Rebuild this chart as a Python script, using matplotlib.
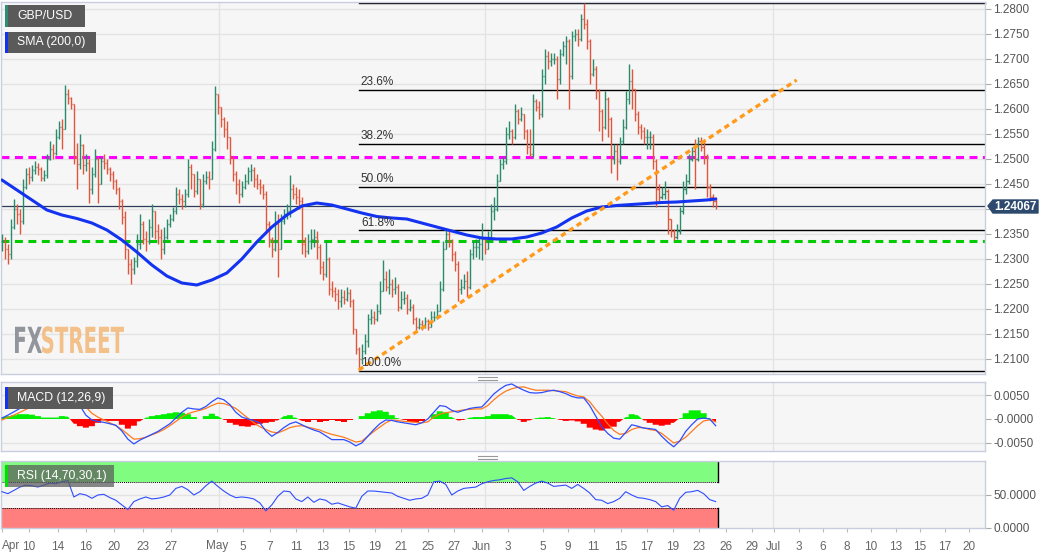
import numpy as np
import matplotlib
matplotlib.use("Agg")
import matplotlib.pyplot as plt
from matplotlib.collections import LineCollection
from matplotlib.patches import Rectangle, Polygon, PathPatch
from matplotlib.textpath import TextPath
from matplotlib.font_manager import FontProperties
from matplotlib.transforms import Affine2D
from matplotlib.lines import Line2D

# ---------------- data ----------------
symbol = "GBP/USD"
sma_label = "SMA (200,0)"
macd_label = "MACD (12,26,9)"
rsi_label = "RSI (14,70,30,1)"

close = [
    1.2335, 1.2320, 1.2310, 1.2365, 1.2400, 1.2390, 1.2375, 1.2445, 1.2470, 1.2465,
    1.2478, 1.2485, 1.2480, 1.2462, 1.2468, 1.2500, 1.2520, 1.2512, 1.2545, 1.2565,
    1.2560, 1.2630, 1.2622, 1.2610, 1.2505, 1.2490, 1.2528, 1.2488, 1.2492, 1.2440,
    1.2470, 1.2500, 1.2450, 1.2495, 1.2492, 1.2480, 1.2470, 1.2455, 1.2440, 1.2415,
    1.2385, 1.2320, 1.2290, 1.2280, 1.2295, 1.2330, 1.2370, 1.2340, 1.2335, 1.2365,
    1.2395, 1.2355, 1.2345, 1.2320, 1.2345, 1.2370, 1.2380, 1.2395, 1.2430, 1.2420,
    1.2415, 1.2430, 1.2485, 1.2470, 1.2435, 1.2460, 1.2410, 1.2455, 1.2465, 1.2460,
    1.2520, 1.2630, 1.2605, 1.2580, 1.2560, 1.2545, 1.2505, 1.2470, 1.2450, 1.2430,
    1.2445, 1.2455, 1.2475, 1.2478, 1.2460, 1.2450, 1.2445, 1.2430, 1.2370, 1.2340,
    1.2320, 1.2370, 1.2320, 1.2375, 1.2390, 1.2395, 1.2440, 1.2430, 1.2425, 1.2415,
    1.2330, 1.2315, 1.2335, 1.2340, 1.2345, 1.2325, 1.2285, 1.2270, 1.2300, 1.2240,
    1.2235, 1.2230, 1.2215, 1.2225, 1.2220, 1.2232, 1.2215, 1.2160, 1.2120, 1.2100,
    1.2115, 1.2135, 1.2180, 1.2185, 1.2180, 1.2195, 1.2235, 1.2260, 1.2245, 1.2250,
    1.2240, 1.2245, 1.2205, 1.2220, 1.2222, 1.2200, 1.2205, 1.2180, 1.2165, 1.2170,
    1.2165, 1.2175, 1.2165, 1.2185, 1.2185, 1.2195, 1.2240, 1.2320, 1.2350, 1.2335,
    1.2310, 1.2290, 1.2240, 1.2245, 1.2255, 1.2245, 1.2310, 1.2325, 1.2325, 1.2330,
    1.2340, 1.2320, 1.2345, 1.2395, 1.2400, 1.2455, 1.2490, 1.2495, 1.2550, 1.2555,
    1.2545, 1.2595, 1.2580, 1.2590, 1.2555, 1.2525, 1.2510, 1.2615, 1.2605, 1.2590,
    1.2665, 1.2705, 1.2695, 1.2700, 1.2700, 1.2660, 1.2710, 1.2725, 1.2735, 1.2665,
    1.2745, 1.2750, 1.2740, 1.2780, 1.2770, 1.2735, 1.2670, 1.2680, 1.2635, 1.2595,
    1.2565, 1.2620, 1.2580, 1.2500, 1.2515, 1.2495, 1.2535, 1.2565, 1.2620, 1.2655,
    1.2640, 1.2590, 1.2565, 1.2555, 1.2545, 1.2545, 1.2545, 1.2495, 1.2440, 1.2425,
    1.2430, 1.2435, 1.2380, 1.2355, 1.2345, 1.2355, 1.2395, 1.2440, 1.2455, 1.2500,
    1.2515, 1.2500, 1.2535, 1.2525, 1.2505, 1.2445, 1.2425, 1.2415, 1.24067,
]
high = [
    1.2350, 1.2345, 1.2330, 1.2380, 1.2420, 1.2410, 1.2400, 1.2460, 1.2482, 1.2485,
    1.2488, 1.2495, 1.2492, 1.2485, 1.2478, 1.2510, 1.2535, 1.2530, 1.2560, 1.2575,
    1.2580, 1.2648, 1.2640, 1.2625, 1.2610, 1.2532, 1.2550, 1.2530, 1.2510, 1.2500,
    1.2485, 1.2520, 1.2505, 1.2505, 1.2510, 1.2500, 1.2485, 1.2475, 1.2460, 1.2445,
    1.2420, 1.2395, 1.2320, 1.2300, 1.2305, 1.2350, 1.2390, 1.2375, 1.2355, 1.2380,
    1.2410, 1.2395, 1.2370, 1.2360, 1.2365, 1.2380, 1.2390, 1.2405, 1.2445, 1.2440,
    1.2430, 1.2440, 1.2500, 1.2490, 1.2470, 1.2475, 1.2450, 1.2470, 1.2475, 1.2475,
    1.2535, 1.2645, 1.2625, 1.2605, 1.2585, 1.2575, 1.2545, 1.2505, 1.2475, 1.2460,
    1.2455, 1.2470, 1.2485, 1.2490, 1.2485, 1.2470, 1.2460, 1.2450, 1.2435, 1.2375,
    1.2345, 1.2395, 1.2390, 1.2390, 1.2400, 1.2410, 1.2468, 1.2450, 1.2445, 1.2440,
    1.2425, 1.2345, 1.2350, 1.2360, 1.2360, 1.2355, 1.2330, 1.2295, 1.2335, 1.2305,
    1.2255, 1.2245, 1.2240, 1.2240, 1.2238, 1.2245, 1.2240, 1.2220, 1.2160, 1.2125,
    1.2130, 1.2150, 1.2190, 1.2200, 1.2195, 1.2210, 1.2255, 1.2298, 1.2275, 1.2280,
    1.2260, 1.2265, 1.2250, 1.2235, 1.2235, 1.2230, 1.2220, 1.2210, 1.2185, 1.2182,
    1.2178, 1.2185, 1.2180, 1.2195, 1.2195, 1.2210, 1.2255, 1.2335, 1.2362, 1.2355,
    1.2340, 1.2315, 1.2295, 1.2260, 1.2270, 1.2275, 1.2320, 1.2335, 1.2340, 1.2345,
    1.2372, 1.2345, 1.2355, 1.2410, 1.2424, 1.2470, 1.2500, 1.2505, 1.2565, 1.2575,
    1.2560, 1.2610, 1.2600, 1.2605, 1.2590, 1.2560, 1.2560, 1.2630, 1.2620, 1.2615,
    1.2680, 1.2720, 1.2715, 1.2712, 1.2712, 1.2705, 1.2720, 1.2735, 1.2745, 1.2740,
    1.2755, 1.2760, 1.2760, 1.2790, 1.2812, 1.2780, 1.2740, 1.2700, 1.2685, 1.2640,
    1.2600, 1.2635, 1.2625, 1.2585, 1.2530, 1.2530, 1.2545, 1.2580, 1.2635, 1.2690,
    1.2680, 1.2640, 1.2595, 1.2570, 1.2565, 1.2560, 1.2555, 1.2550, 1.2500, 1.2450,
    1.2445, 1.2455, 1.2440, 1.2380, 1.2360, 1.2370, 1.2405, 1.2455, 1.2470, 1.2510,
    1.2525, 1.2540, 1.2545, 1.2545, 1.2540, 1.2510, 1.2450, 1.2430, 1.2425,
]
low = [
    1.2315, 1.2300, 1.2290, 1.2300, 1.2360, 1.2370, 1.2350, 1.2370, 1.2440, 1.2450,
    1.2455, 1.2470, 1.2468, 1.2455, 1.2455, 1.2462, 1.2498, 1.2500, 1.2508, 1.2540,
    1.2520, 1.2560, 1.2610, 1.2600, 1.2490, 1.2440, 1.2480, 1.2470, 1.2475, 1.2412,
    1.2430, 1.2465, 1.2412, 1.2450, 1.2480, 1.2470, 1.2455, 1.2440, 1.2430, 1.2400,
    1.2370, 1.2300, 1.2270, 1.2250, 1.2270, 1.2285, 1.2320, 1.2330, 1.2315, 1.2330,
    1.2345, 1.2340, 1.2330, 1.2300, 1.2310, 1.2340, 1.2365, 1.2375, 1.2390, 1.2410,
    1.2400, 1.2405, 1.2425, 1.2440, 1.2425, 1.2430, 1.2400, 1.2405, 1.2450, 1.2440,
    1.2460, 1.2515, 1.2590, 1.2565, 1.2545, 1.2520, 1.2490, 1.2455, 1.2430, 1.2412,
    1.2425, 1.2440, 1.2450, 1.2455, 1.2445, 1.2440, 1.2430, 1.2420, 1.2355, 1.2325,
    1.2305, 1.2315, 1.2265, 1.2320, 1.2370, 1.2380, 1.2385, 1.2420, 1.2410, 1.2400,
    1.2310, 1.2305, 1.2310, 1.2320, 1.2325, 1.2300, 1.2270, 1.2258, 1.2265, 1.2228,
    1.2225, 1.2215, 1.2200, 1.2205, 1.2210, 1.2215, 1.2205, 1.2150, 1.2110, 1.2076,
    1.2090, 1.2110, 1.2125, 1.2170, 1.2170, 1.2175, 1.2190, 1.2240, 1.2235, 1.2230,
    1.2225, 1.2230, 1.2195, 1.2200, 1.2210, 1.2190, 1.2195, 1.2170, 1.2158, 1.2160,
    1.2158, 1.2162, 1.2158, 1.2165, 1.2175, 1.2180, 1.2195, 1.2235, 1.2320, 1.2325,
    1.2295, 1.2275, 1.2215, 1.2230, 1.2240, 1.2225, 1.2240, 1.2300, 1.2305, 1.2300,
    1.2298, 1.2310, 1.2320, 1.2340, 1.2378, 1.2395, 1.2460, 1.2480, 1.2490, 1.2540,
    1.2530, 1.2540, 1.2570, 1.2575, 1.2540, 1.2510, 1.2505, 1.2505, 1.2595, 1.2580,
    1.2585, 1.2650, 1.2680, 1.2685, 1.2690, 1.2620, 1.2650, 1.2705, 1.2690, 1.2600,
    1.2660, 1.2735, 1.2725, 1.2735, 1.2760, 1.2720, 1.2650, 1.2665, 1.2620, 1.2555,
    1.2535, 1.2560, 1.2545, 1.2472, 1.2490, 1.2458, 1.2490, 1.2530, 1.2560, 1.2610,
    1.2600, 1.2575, 1.2550, 1.2540, 1.2530, 1.2520, 1.2520, 1.2480, 1.2405, 1.2415,
    1.2420, 1.2420, 1.2350, 1.2345, 1.2338, 1.2340, 1.2350, 1.2390, 1.2430, 1.2450,
    1.2495, 1.2440, 1.2495, 1.2515, 1.2490, 1.2425, 1.2415, 1.2405, 1.2400,
]

# SMA(200) values, every 5th bar plus the last bar
sma = [
    1.2458, 1.2438, 1.2418, 1.2398, 1.2388, 1.2381, 1.2372, 1.2358, 1.2338, 1.2314,
    1.2288, 1.2266, 1.2252, 1.2248, 1.2258, 1.2272, 1.2300, 1.2334, 1.2364, 1.2388,
    1.2406, 1.2412, 1.2408, 1.2400, 1.2392, 1.2385, 1.2382, 1.2380, 1.2372, 1.2364,
    1.2356, 1.2348, 1.2342, 1.2340, 1.2340, 1.2344, 1.2352, 1.2364, 1.2382, 1.2396,
    1.2404, 1.2407, 1.2409, 1.2411, 1.2413, 1.2414, 1.2416, 1.2418, 1.2420,
]

# indicator values every 2nd bar (units of 1e-4 for MACD)
macd_line = [
    2, 8, 15, 22, 30, 38, 44, 46, 49, 52,
    54, 56, 44, 28, 8, -2, -5, -7, -10, -13,
    -25, -42, -52, -44, -38, -32, -26, -18, -10, 2,
    14, 23, 21, 20, 26, 36, 44, 40, 30, 14,
    4, 0, -3, -8, -25, -36, -28, -18, -10, -6,
    -12, -18, -23, -27, -35, -43, -43, -43, -48, -56,
    -50, -36, -22, -10, -2, -3, -6, -8, -10, -12,
    -8, 0, 14, 28, 26, 18, 14, 18, 22, 24,
    25, 38, 52, 62, 70, 73, 66, 60, 55, 54,
    55, 58, 60, 57, 53, 47, 44, 44, 28, 6,
    -16, -30, -40, -42, -28, -12, -15, -19, -20, -22,
    -36, -48, -58, -46, -26, -12, 0, 2, 0, -14,
]
signal_line = [
    -2, 3, 8, 14, 20, 26, 31, 35, 38, 40,
    41, 40, 37, 33, 25, 12, 4, -2, -8, -14,
    -22, -32, -42, -41, -38, -33, -28, -22, -14, -5,
    4, 11, 15, 18, 22, 28, 33, 32, 28, 22,
    12, 2, -8, -16, -22, -27, -29, -24, -18, -15,
    -14, -17, -20, -23, -28, -32, -35, -38, -43, -48,
    -46, -36, -26, -17, -8, -2, -3, -5, -6, -7,
    -8, -6, 4, 10, 13, 15, 17, 19, 20, 21,
    21, 28, 40, 50, 58, 63, 66, 67, 63, 60,
    60, 60, 59, 58, 57, 52, 48, 46, 36, 20,
    6, -10, -24, -32, -30, -22, -18, -18, -22, -24,
    -30, -40, -50, -46, -38, -26, -14, -4, -2, -6,
]
macd_hist = [
    4, 6, 8, 10, 10, 9, 6, 3, 3, 3,
    6, 5, -10, -15, -18, -15, -8, -3, -4, -4,
    -12, -20, -14, -5, 3, 6, 8, 10, 12, 14,
    13, 10, 4, 0, 6, 11, 6, -2, -8, -12,
    -15, -16, -13, -10, -8, -6, -3, 6, 8, 3,
    -4, -6, -3, -6, -4, -2, -5, -6, -3, 0,
    6, 12, 16, 18, 15, 8, 2, -3, -6, -7,
    -4, 0, 10, 16, 14, 4, -3, -2, 3, 4,
    4, 6, 10, 10, 10, 8, -2, -6, -3, 2,
    3, 4, 2, -2, -4, -3, -5, -10, -18, -22,
    -24, -20, -16, -6, 4, 10, 8, -3, -8, -12,
    -14, -12, -8, 2, 12, 18, 18, 12, 2, -6,
]
rsi = [
    55, 52, 57, 62, 65, 64, 62, 65, 68, 67,
    70, 72, 47, 52, 50, 45, 50, 51, 46, 42,
    35, 28, 40, 44, 47, 44, 45, 47, 50, 60,
    63, 58, 50, 55, 64, 71, 63, 56, 50, 46,
    47, 46, 44, 38, 26, 35, 48, 56, 55, 44,
    40, 47, 39, 44, 42, 36, 38, 35, 32, 30,
    48, 56, 56, 55, 54, 53, 48, 45, 42, 44,
    45, 50, 70, 71, 66, 50, 56, 60, 61, 62,
    67, 70, 72, 73, 75, 76, 70, 57, 63, 68,
    71, 68, 63, 64, 65, 60, 66, 60, 53, 43,
    42, 37, 40, 45, 55, 50, 46, 45, 43, 40,
    32, 34, 27, 45, 54, 55, 57, 52, 43, 40,
]

date_labels = ["Apr", "10", "14", "16", "20", "23", "27", "May", "5", "7", "11", "13",
               "15", "19", "21", "25", "27", "Jun", "3", "5", "9", "11", "15", "17",
               "19", "23", "26", "29", "Jul", "3", "6", "8", "10", "13", "15", "17", "20"]

fib_low_bar, fib_low = 119, 1.2076
fib_high = 1.2812
fib_ratios = [0.0, 0.236, 0.382, 0.5, 0.618, 1.0]
resistance = 1.2503
support = 1.2335
trend_start = (119, 1.2078)
trend_end = (265, 1.2658)
last_price = 1.24067

# ---------------- layout helpers ----------------
W, H = 1060, 555
fig = plt.figure(figsize=(W / 100, H / 100), dpi=100)
fig.patch.set_facecolor("white")
plt.rcParams["font.family"] = ["Liberation Sans", "DejaVu Sans"]


def fx(px):
    return px / W


def fy(py):
    return 1 - py / H


PLOT_R = 985
ax_main = fig.add_axes([fx(1), fy(374), fx(PLOT_R - 1), (374 - 2) / H])
ax_macd = fig.add_axes([fx(1), fy(451), fx(PLOT_R - 1), (451 - 382) / H], sharex=ax_main)
ax_rsi = fig.add_axes([fx(1), fy(528), fx(PLOT_R - 1), (528 - 461) / H], sharex=ax_main)

n = len(close)
idx = np.arange(n)
PX_PER_BAR = 3.0
x_max = (PLOT_R - 1) / PX_PER_BAR - 0.2

BG = "#f6f6f6"
GRID = "#e3e3e3"
SPINE = "#c9cedf"
TXT = "#555555"
for ax in (ax_main, ax_macd, ax_rsi):
    ax.set_facecolor(BG)
    for s in ax.spines.values():
        s.set_color(SPINE)
        s.set_linewidth(1.0)
    ax.yaxis.tick_right()
    ax.tick_params(axis="y", colors="#aaaaaa", labelcolor=TXT, labelsize=8.5,
                   length=4, width=0.8, pad=2)
    ax.set_xlim(-0.3, x_max)

# month gridlines (bar positions)
month_bars = [72.3, 161.0, 257.0]
for ax in (ax_main, ax_macd, ax_rsi):
    for mb in month_bars:
        ax.axvline(mb, color=GRID, lw=1.0, zorder=0)

# ---------------- main panel ----------------
ax_main.set_ylim(1.2070, 1.2814)
yt = np.round(np.arange(1.2100, 1.28001, 0.0050), 4)
ax_main.set_yticks(yt)
# the 1.2400 label sits under the last-price tag, as in the source
ax_main.set_yticklabels(["" if abs(v - 1.24) < 1e-6 else f"{v:.4f}" for v in yt])
for v in yt:
    ax_main.axhline(v, color=GRID, lw=1.0, zorder=0)

opens = [close[0]] + close[:-1]
up_c, dn_c = "#2a8a6c", "#e0553b"
segs, cols = [], []
for i in range(n):
    o, h, l, c = opens[i], high[i], low[i], close[i]
    h = max(h, o, c)
    l = min(l, o, c)
    col = up_c if c >= o else dn_c
    segs += [[(i, l), (i, h)], [(i - 0.4, o), (i, o)], [(i, c), (i + 0.4, c)]]
    cols += [col] * 3
ax_main.add_collection(LineCollection(segs, colors=cols, linewidths=1.0, zorder=3))

# SMA
sma_x = list(range(0, n, 5)) + [n - 1]
ax_main.plot(sma_x, sma, color="#1433f0", lw=2.2, zorder=4, solid_capstyle="round")

# horizontal levels
ax_main.axhline(resistance, color="#ff00ff", lw=2.2, dashes=(2.6, 1.8), zorder=2)
ax_main.axhline(support, color="#00cc00", lw=2.2, dashes=(2.6, 1.8), zorder=2)
ax_main.axhline(last_price, color="#2c3d5c", lw=0.9, zorder=2)

# fib retracement
for r in fib_ratios:
    lvl = fib_high - r * (fib_high - fib_low)
    ax_main.plot([fib_low_bar, x_max], [lvl, lvl], color="black", lw=1.0, zorder=2,
                 clip_on=False if r == 0 else True)
    if r > 0:
        ax_main.text(fib_low_bar + 0.7, lvl + 0.0003, f"{r * 100:.1f}%", fontsize=8.5,
                     color="#333333", va="bottom", ha="left", zorder=5)

# trend line
ax_main.plot([trend_start[0], trend_end[0]], [trend_start[1], trend_end[1]],
             color="#ff9a1a", lw=2.4, dashes=(1.6, 1.2), zorder=4)

# ---------------- MACD panel ----------------
ind_x = np.arange(0, n, 2)
mh = np.array(macd_hist) * 1e-4
ax_macd.set_ylim(-0.00667, 0.00771)
ax_macd.set_yticks([0.005, 0.0, -0.005])
ax_macd.set_yticklabels(["0.0050", "-0.0000", "-0.0050"])
for v in (0.005, -0.005):
    ax_macd.axhline(v, color=GRID, lw=1.0, zorder=0)
ax_macd.fill_between(ind_x, 0, mh, where=mh >= 0, color="#00ee00", step="mid",
                     interpolate=True, lw=0, zorder=2)
ax_macd.fill_between(ind_x, 0, mh, where=mh <= 0, color="#ff0000", step="mid",
                     interpolate=True, lw=0, zorder=2)
ax_macd.plot(ind_x, np.array(signal_line) * 1e-4, color="#ff7a1f", lw=0.9, zorder=3)
ax_macd.plot(ind_x, np.array(macd_line) * 1e-4, color="#2e4dff", lw=0.9, zorder=4)

# ---------------- RSI panel ----------------
ax_rsi.set_ylim(0, 101.5)
ax_rsi.set_yticks([50, 0])
ax_rsi.set_yticklabels(["50.0000", "0.0000"])
ax_rsi.axhline(50, color=GRID, lw=1.0, zorder=0)
zone_end = n - 1 + 0.9
ax_rsi.fill_between([-0.3, zone_end], 70, 101.5, color="#80fc80", lw=0, zorder=1)
ax_rsi.fill_between([-0.3, zone_end], 0, 30, color="#ff7f7f", lw=0, zorder=1)
ax_rsi.plot([-0.3, zone_end], [70, 70], color="black", lw=0.7, ls=(0, (1, 1)), zorder=2)
ax_rsi.plot([-0.3, zone_end], [30, 30], color="black", lw=0.7, ls=(0, (1, 1)), zorder=2)
ax_rsi.plot([zone_end, zone_end], [70, 101.5], color="black", lw=1.0, zorder=2)
ax_rsi.plot([zone_end, zone_end], [0, 30], color="black", lw=1.0, zorder=2)
ax_rsi.plot(ind_x, rsi, color="#2e4dff", lw=0.8, zorder=3)

# x ticks
tick_px = [1, 28, 57, 85, 113, 142, 170, 216, 242, 269, 295, 322, 348, 374, 400, 427,
           453, 481, 507, 542, 567, 593, 620, 646, 672, 698, 725, 751, 773, 798, 822,
           846, 870, 895, 919, 944, 968]
tick_pos = [(p - 1) / PX_PER_BAR for p in tick_px]
for ax in (ax_main, ax_macd):
    ax.tick_params(axis="x", bottom=False, labelbottom=False)
ax_rsi.set_xticks(tick_pos)
ax_rsi.set_xticklabels(date_labels)
ax_rsi.tick_params(axis="x", colors="#bbbbbb", labelcolor="#666666", labelsize=8.5,
                   length=3, width=0.8, pad=6)
ax_rsi.get_xticklabels()[0].set_ha("left")

# ---------------- decorations ----------------
def label_box(x0, y0, x1, y1, text, stripe, alpha=1.0):
    fig.add_artist(Rectangle((fx(x0), fy(y1)), fx(x1 - x0), (y1 - y0) / H,
                             facecolor="#5a5a5a", edgecolor="none", alpha=alpha,
                             transform=fig.transFigure, zorder=10))
    fig.add_artist(Rectangle((fx(x0), fy(y1)), fx(2.5), (y1 - y0) / H,
                             facecolor=stripe, edgecolor="none",
                             transform=fig.transFigure, zorder=11))
    fig.text(fx(x0 + 12), fy((y0 + y1) / 2), text, color="white", fontsize=8.8,
             va="center", ha="left", zorder=12)


label_box(5, 5, 85, 27, symbol, "#2e8b74")
label_box(5, 32, 96, 53, sma_label, "#1433f0")
label_box(5, 387, 113, 409, macd_label, "#1433f0")
label_box(5, 465, 114, 487, rsi_label, "#00dd00", alpha=0.72)

# price tag
fig.add_artist(Polygon([(fx(988), fy(206)), (fx(993), fy(200)), (fx(1038), fy(200)),
                        (fx(1038), fy(213)), (fx(993), fy(213))], closed=True,
                       facecolor="#2d4a6e", edgecolor="#2d4a6e",
                       transform=fig.transFigure, zorder=10))
fig.text(fx(1015.5), fy(206.5), f"{last_price:.5f}", color="white", fontsize=8.5,
         fontweight="bold", ha="center", va="center", zorder=11)

# panel handles
for yy in (377, 380, 456, 459):
    fig.add_artist(Line2D([fx(478), fx(497)], [fy(yy), fy(yy)], color="#999999",
                          lw=0.8, transform=fig.transFigure))

# watermark
fp = FontProperties(family="DejaVu Sans", weight="bold")
for txt, x0, col in (("FX", 15, "#8d9097"), ("STREET", 42, "#f2bd82")):
    tp = TextPath((0, 0), txt, size=1, prop=fp)
    bb = tp.get_extents()
    target_w = 27 if txt == "FX" else 82
    sx = target_w / bb.width
    tr = Affine2D().translate(-bb.x0, 0).scale(sx, 36.0).translate(x0, H - 353)
    fig.add_artist(PathPatch(tp, transform=tr, facecolor=col, edgecolor="none",
                             zorder=1, alpha=0.95))

fig.savefig("out.png", dpi=100, facecolor="white")
